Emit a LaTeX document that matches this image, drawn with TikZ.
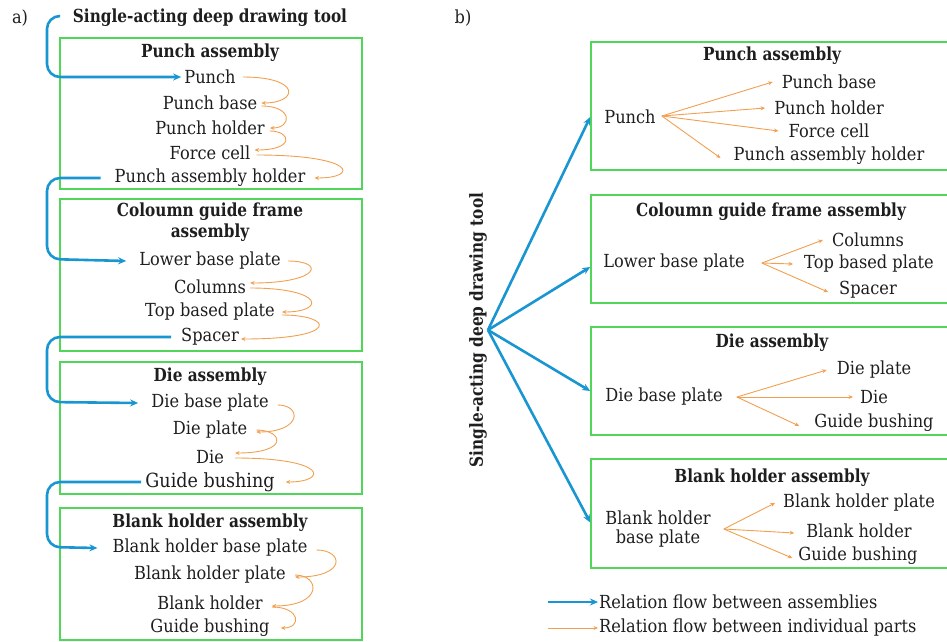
\documentclass[tikz,border=0pt]{standalone}
\usepackage{fontspec}
\setmainfont{DejaVu Serif}[FakeStretch=0.90,BoldFeatures={FakeStretch=0.85}]
\usetikzlibrary{arrows.meta,calc}
\definecolor{boxgreen}{RGB}{80,215,90}
\definecolor{flowblue}{RGB}{25,150,210}
\definecolor{floworange}{RGB}{240,160,80}
\definecolor{txt}{RGB}{30,30,30}
\newcommand\fsz{\fontsize{18}{21}\selectfont}
\begin{document}
\begin{tikzpicture}[x=1pt,y=-1pt,
  frame/.style={draw=boxgreen,line width=1.6pt,minimum width=#1,inner sep=0pt},
  item/.style={font=\fsz,text=txt,inner sep=1pt},
  ttl/.style={font=\fsz\bfseries,text=txt,inner sep=1pt,align=center},
  bluearr/.style={draw=flowblue,line width=2.6pt,-{Stealth[length=8pt,width=7pt]}},
  orarr/.style={draw=floworange,line width=0.9pt,-{Stealth[length=4.5pt,width=4pt]}}]
\useasboundingbox (0,0) rectangle (947,642);
% ---------------- panel a ----------------
\node[item] (la) at (20,18) {a)};
\node[ttl] (T) at (210,18) {Single-acting deep drawing tool};
\node[frame=302pt,minimum height=151pt] (A1) at (211,113.5) {};
\node[frame=302pt,minimum height=152pt] (A2) at (211,275) {};
\node[frame=302pt,minimum height=132pt] (A3) at (211,428) {};
\node[frame=302pt,minimum height=132pt] (A4) at (211,574) {};
% box 1
\node[ttl] (a1t) at (210,53) {Punch assembly};
\node[item] (a11) at (210,77) {Punch};
\node[item] (a12) at (210,103) {Punch base};
\node[item] (a13) at (210,128) {Punch holder};
\node[item] (a14) at (210,153) {Force cell};
\node[item] (a15) at (210,178) {Punch assembly holder};
% box 2
\node[ttl] (a2t) at (210,222) {Coloumn guide frame\\assembly};
\node[item] (a21) at (210,261) {Lower base plate};
\node[item] (a22) at (210,287) {Columns};
\node[item] (a23) at (210,312) {Top based plate};
\node[item] (a24) at (210,337) {Spacer};
% box 3
\node[ttl] (a3t) at (210,377) {Die assembly};
\node[item] (a31) at (210,403) {Die base plate};
\node[item] (a32) at (210,430) {Die plate};
\node[item] (a33) at (210,457) {Die};
\node[item,font=\fontsize{19.5}{22}\selectfont] (a34) at (210,482) {Guide bushing};
% box 4
\node[ttl] (a4t) at (210,523) {Blank holder assembly};
\node[item] (a41) at (210,548) {Blank holder base plate};
\node[item] (a42) at (210,575) {Blank holder plate};
\node[item] (a43) at (210,603) {Blank holder};
\node[item] (a44) at (210,628) {Guide bushing};
% blue flow, panel a
\draw[bluearr,rounded corners=13pt] ([xshift=-12pt,yshift=2pt]T.west) -- (47,16) -- (47,77) -- ([xshift=-2pt]a11.west);
\draw[bluearr,rounded corners=13pt] ([xshift=-13pt]a15.west) -- (47,178) -- (47,259) -- ([xshift=-12pt]a21.west);
\draw[bluearr,rounded corners=13pt] ([xshift=-9pt]a24.west) -- (47,337) -- (47,402) -- ([xshift=-12pt]a31.west);
\draw[bluearr,rounded corners=13pt] ([xshift=-3pt]a34.west) -- (47,482) -- (47,547) -- ([xshift=-14pt]a41.west);
% orange flow, panel a
\draw[orarr] ([xshift=6pt]a11.east) .. controls +(59,0) and +(37,0) .. ([xshift=3pt]a12.east);
\draw[orarr] ([xshift=3pt,yshift=-3pt]a12.east) .. controls +(32,0) and +(22,0) .. ([xshift=4pt]a13.east);
\draw[orarr] ([xshift=4pt,yshift=-3pt]a13.east) .. controls +(21,0) and +(41,0) .. ([xshift=3pt,yshift=3pt]a14.east);
\draw[orarr] ([xshift=5pt,yshift=-2pt]a14.east) .. controls +(100,0) and +(45,0) .. ([xshift=8pt]a15.east);
\draw[orarr] ([xshift=6pt]a21.east) .. controls +(38,0) and +(70,0) .. ([xshift=3pt,yshift=4pt]a22.east);
\draw[orarr] ([xshift=3pt,yshift=-1pt]a22.east) .. controls +(74,0) and +(44,0) .. ([xshift=6pt]a23.east);
\draw[orarr] ([xshift=6pt,yshift=-3pt]a23.east) .. controls +(51,0) and +(101,0) .. ([xshift=1pt,yshift=-2pt]a24.east);
\draw[orarr] ([xshift=8pt,yshift=-2pt]a31.east) .. controls +(24,0) and +(46,0) .. ([xshift=8pt,yshift=-2pt]a32.east);
\draw[orarr] ([xshift=8pt]a32.east) .. controls +(27,0) and +(55,0) .. ([xshift=10pt,yshift=4pt]a33.east);
\draw[orarr] ([xshift=10pt,yshift=-1pt]a33.east) .. controls +(94,0) and +(42,0) .. ([xshift=10pt]a34.east);
\draw[orarr] ([xshift=8pt,yshift=-2pt]a41.east) .. controls +(27,0) and +(52,0) .. ([xshift=8pt,yshift=-2pt]a42.east);
\draw[orarr] ([xshift=8pt]a42.east) .. controls +(25,0) and +(52,0) .. ([xshift=8pt,yshift=-3pt]a43.east);
\draw[orarr] ([xshift=8pt,yshift=-4pt]a43.east) .. controls +(29,0) and +(21,0) .. ([xshift=10pt]a44.east);
% ---------------- panel b ----------------
\node[item] (lb) at (463,18) {b)};
\node[ttl,rotate=90] (RT) at (478,330) {Single-acting deep drawing tool};
\coordinate (hub) at (488,330);
\node[frame=370pt,minimum height=128pt] (B1) at (776,106) {};
\node[frame=370pt,minimum height=108pt] (B2) at (776,249) {};
\node[frame=370pt,minimum height=108pt] (B3) at (776,381) {};
\node[frame=370pt,minimum height=109pt] (B4) at (776,513.5) {};
% box 1
\node[ttl] (b1t) at (772,56) {Punch assembly};
\node[item] (b10) at (630,117) {Punch};
\node[item] (b11) at (829,82) {Punch base};
\node[item] (b12) at (829,108) {Punch holder};
\node[item] (b13) at (829,131) {Force cell};
\node[item] (b14) at (829,156) {Punch assembly holder};
% box 2
\node[ttl] (b2t) at (771,212) {Coloumn guide frame assembly};
\node[item] (b20) at (674,263) {Lower base plate};
\node[item] (b21) at (868,240) {Columns};
\node[item] (b22) at (869,264) {Top based plate};
\node[item] (b23) at (868,290) {Spacer};
% box 3
\node[ttl] (b3t) at (772,343) {Die assembly};
\node[item] (b30) at (664,397) {Die base plate};
\node[item] (b31) at (874,370) {Die plate};
\node[item] (b32) at (874,397) {Die};
\node[item] (b33) at (874,423) {Guide bushing};
% box 4
\node[ttl] (b4t) at (772,478) {Blank holder assembly};
\node[item,align=center,font=\fontsize{18}{19}\selectfont] (b40) at (658,529) {Blank holder\\base plate};
\node[item] (b41) at (859,503) {Blank holder plate};
\node[item] (b42) at (859,531) {Blank holder};
\node[item] (b43) at (858,556) {Guide bushing};
% blue flow, panel b
\draw[bluearr] (hub) -- ([yshift=-11pt]B1.west);
\draw[bluearr] (hub) -- ([yshift=-18pt]B2.west);
\draw[bluearr] (hub) -- ([yshift=-10pt]B3.west);
\draw[bluearr] (hub) -- ([yshift=-9pt]B4.west);
% orange flow, panel b
\coordinate (h1) at ([xshift=5pt,yshift=1pt]b10.east);
\draw[orarr] (h1) -- ([xshift=-8pt]b11.west);
\draw[orarr] (h1) -- ([xshift=-8pt]b12.west);
\draw[orarr] (h1) -- ([xshift=-9pt]b13.west);
\draw[orarr] (h1) -- ([xshift=-12pt,yshift=-2pt]b14.west);
\coordinate (h2) at ([xshift=16pt]b20.east);
\draw[orarr] (h2) -- ([xshift=-8pt]b21.west);
\draw[orarr] (h2) -- ([xshift=-10pt]b22.west);
\draw[orarr] (h2) -- ([xshift=-10pt,yshift=-2pt]b23.west);
\coordinate (h3) at ([xshift=13pt]b30.east);
\draw[orarr] (h3) -- ([xshift=-9pt]b31.west);
\draw[orarr] (h3) -- ([xshift=-6pt]b32.west);
\draw[orarr] (h3) -- ([xshift=-14pt,yshift=-3pt]b33.west);
\coordinate (h4) at ([xshift=12pt]b40.east);
\draw[orarr] (h4) -- ([xshift=-7pt]b41.west);
\draw[orarr] (h4) -- ([xshift=-11pt,yshift=-2pt]b42.west);
\draw[orarr] (h4) -- ([xshift=-5pt,yshift=-2pt]b43.west);
% legend
\node[item,anchor=west] (L1) at (598,602) {Relation flow between assemblies};
\node[item,anchor=west] (L2) at (598,628) {Relation flow between individual parts};
\coordinate (L1s) at (548,602);
\coordinate (L2s) at (548,628);
\draw[bluearr] (L1s) -- (L1.west);
\draw[orarr] (L2s) -- (L2.west);
\end{tikzpicture}
\end{document}
